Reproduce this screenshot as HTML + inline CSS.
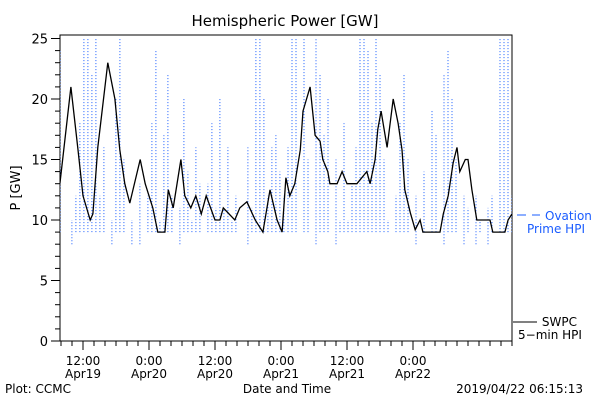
<!DOCTYPE html>
<html><head><meta charset="utf-8"><style>
body{margin:0;background:#fff;}
svg{display:block;font-family:"DejaVu Sans","Liberation Sans",sans-serif;}
</style></head><body>
<svg id="chart" width="600" height="400" viewBox="0 0 600 400">
<rect width="600" height="400" fill="#fff"/>
<text x="285" y="26" font-size="15" text-anchor="middle">Hemispheric Power [GW]</text>
<text transform="translate(20,188) rotate(-90)" font-size="13" text-anchor="middle">P [GW]</text>
<text x="287" y="393" font-size="12" text-anchor="middle">Date and Time</text>
<text x="5" y="393" font-size="12">Plot: CCMC</text>
<text x="583" y="393" font-size="12" text-anchor="end">2019/04/22 06:15:13</text>
<g id="axes"></g>
<g id="series"></g>
<g>
<line x1="517" y1="215" x2="526" y2="215" stroke="#1a5cff" stroke-width="1"/>
<line x1="532" y1="215" x2="540" y2="215" stroke="#1a5cff" stroke-width="1"/>
<text x="545" y="220" font-size="12" fill="#1a5cff">Ovation</text>
<text x="527" y="233" font-size="12" fill="#1a5cff">Prime HPI</text>
</g>
<g>
<line x1="513" y1="322" x2="537" y2="322" stroke="#000" stroke-width="1"/>
<text x="577" y="326" font-size="12" text-anchor="end">SWPC</text>
<text x="518" y="339" font-size="12">5−min HPI</text>
</g>
</svg>
<script>
// hours relative to 12:00 Apr19
const blackHours=[-4.2,-2.2,-0.9,0,1.3,1.8,2.7,4.5,5.8,6.7,7.6,8.5,10.4,11.3,12.7,13.6,14.9,15.5,16.4,17.8,18.5,19.6,20.5,21.5,22.4,24,24.9,25.5,27.6,28.5,29.8,31.3,32.7,34,35.3,36.2,36.9,37.6,38.5,39.5,40,41.3,42.2,43.1,43.6,44.5,44.9,46.2,47.1,48,49.8,51.6,52.2,53.1,53.6,54.2,55.3,56.4,57.3,58,58.5,59.5,60.4,61.3,61.8,64.9,65.5,66.4,67.3,68,68.5,69.5,70,70.7,71.6,74,74.5,76.7,77.3,78];
const blackValues=[13,21,15.8,12,10,10.5,16,23,20,15.8,13,11.4,15,13,11,9,9,12.5,11,15,12,11,12,10.5,12,10,10,11,10,11,11.5,10,9,12.5,10,9,13.5,12,13,15.8,19,21,17,16.5,15,14,13,13,14,13,13,14,13,15,17.5,19,16,20,18,15.8,12.5,10.6,9.2,10,9,9,10.5,12,14.7,16,14,15,15,12.5,10,10,9,9,10,10.5];
const blueValues=[24,8,8,10,12,18,25,25,22,25,12,16,8,10,20,25,15,8,10,8,13,9,12,18,24,10,17,22,12,8,11,20,14,10,16,13,9,13,18,11,20,11,16,10,12,8,8,16,11,25,25,20,12,16,17,14,12,16,25,25,9,25,15,8,25,22,17,20,8,15,10,18,10,13,16,25,25,24,18,25,22,15,10,9,12,18,22,15,8,12,9,14,9,19,17,8,22,24,20,15,8,12,11,8,12,10,8,11,12,9,25,25,25,12];
const blueStart=-4.2, blueEnd=78;
const yTicks=[0,5,10,15,20,25];
const xTickHours=[0,12,24,36,48,60];
const xTickLabels=[["12:00","Apr19"],["0:00","Apr20"],["12:00","Apr20"],["0:00","Apr21"],["12:00","Apr21"],["0:00","Apr22"]];

const L=60,R=512,T=35,B=341;
const X=h=>83+h*5.5;
const Y=v=>B-v*12.1;
const NS="http://www.w3.org/2000/svg";
function mk(tag,attrs,parent){const e=document.createElementNS(NS,tag);for(const k in attrs)e.setAttribute(k,attrs[k]);parent.appendChild(e);return e;}
const axes=document.getElementById('axes');
const series=document.getElementById('series');

const frame=mk('path',{d:`M${L} ${T}H${R}V${B}H${L}Z`,fill:'none',stroke:'#000','stroke-width':1},axes);


for(let v=0;v<=25;v++){
  const major=yTicks.includes(v);
  const t=mk('line',{x1:L-(major?9:5),x2:L,y1:Y(v),y2:Y(v),stroke:'#000'},axes);
  
  
}
yTicks.forEach(v=>{
  const t=mk('text',{x:L-12,y:Y(v)+5,'font-size':13,'text-anchor':'end'},axes);
  t.textContent=v;
  
  
});
for(let h=-4;h<=78;h+=2){
  const major=xTickHours.includes(h);
  const t=mk('line',{x1:X(h),x2:X(h),y1:B,y2:B+(major?9:5),stroke:'#000'},axes);
  
  
}
xTickHours.forEach((h,i)=>{
  const t=mk('text',{x:X(h),y:365,'font-size':12,'text-anchor':'middle'},axes);
  t.textContent=xTickLabels[i][0];
  
  
  const d=mk('text',{x:X(h),y:378,'font-size':12,'text-anchor':'middle'},axes);
  d.textContent=xTickLabels[i][1];
  
  
});

const cp=mk('clipPath',{id:'clip'},series);
mk('rect',{x:L,y:T,width:R-L,height:B-T},cp);

const step=(blueEnd-blueStart)/(blueValues.length-1);
let bd='';
blueValues.forEach((v,i)=>{
  const x=X(blueStart+i*step).toFixed(1);
  const prev=i===0?9:Math.min(blueValues[i-1],10);
  const lo=Math.min(prev,v,9);
  bd+=`M${x} ${Y(lo).toFixed(1)}V${Y(v).toFixed(1)}`;
});
const blue=mk('path',{d:bd,fill:'none',stroke:'#1a5cff','stroke-width':1,'stroke-dasharray':'1 2','clip-path':'url(#clip)'},series);



const pts=blackHours.map((h,i)=>X(h).toFixed(1)+','+Y(blackValues[i]).toFixed(1)).join(' ');
const black=mk('polyline',{points:pts,fill:'none',stroke:'#000','stroke-width':1.3,'clip-path':'url(#clip)'},series);


</script>
</body></html>
